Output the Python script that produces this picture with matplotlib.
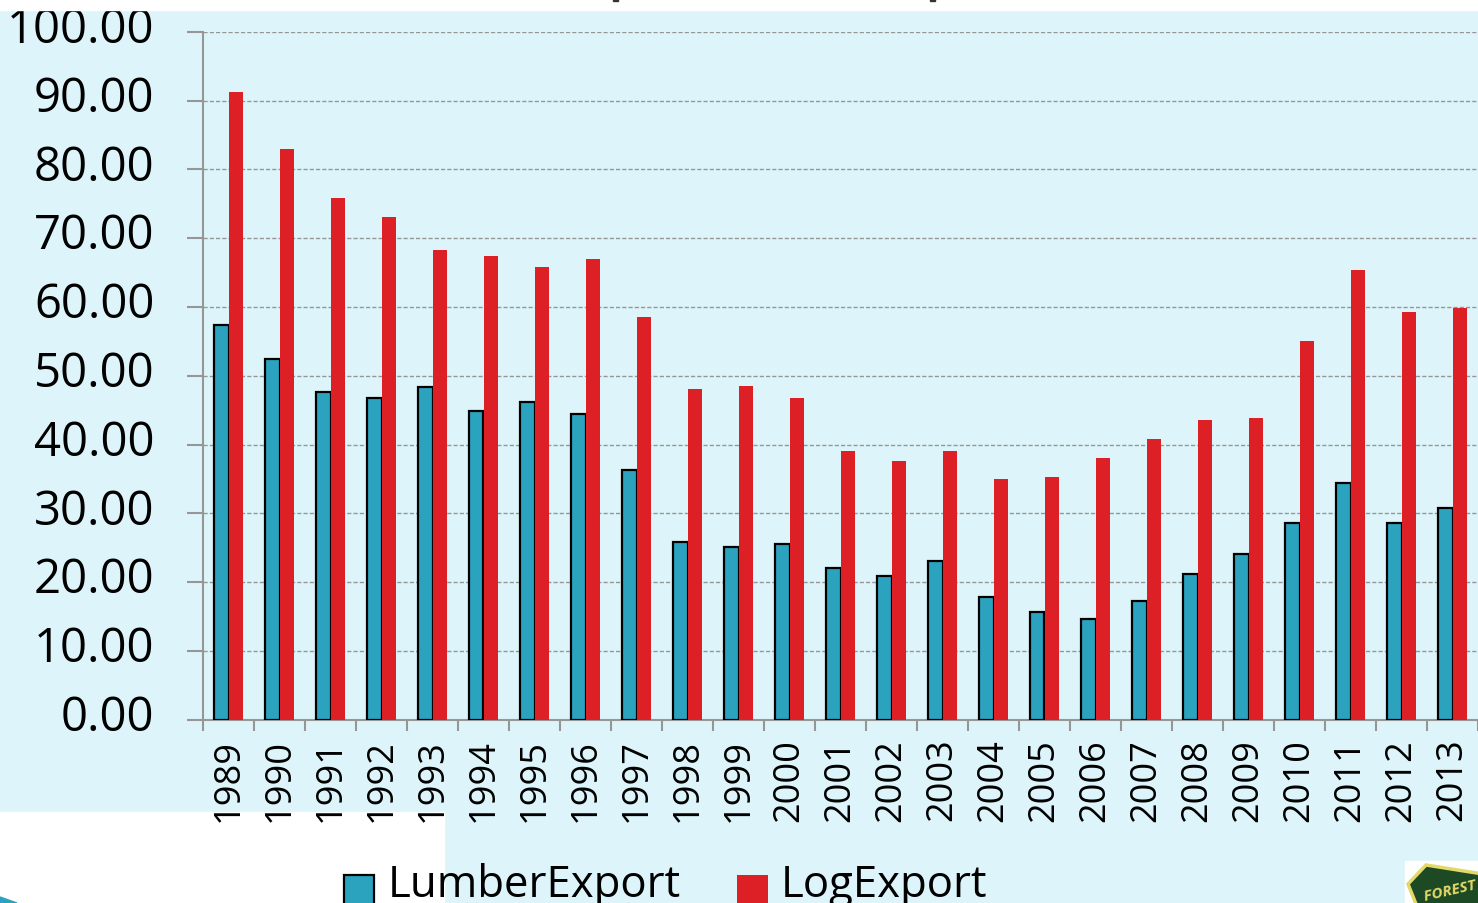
import matplotlib
matplotlib.use("Agg")
import matplotlib.pyplot as plt
import numpy as np
from matplotlib.patches import Polygon, Rectangle
from matplotlib.transforms import ScaledTranslation

W, H = 1478, 904

years = list(range(1989, 2014))
lumber = [57.3, 52.5, 47.7, 46.7, 48.3, 44.8, 46.2, 44.5, 36.3, 25.9, 25.1, 25.6, 22.1,
          20.9, 23.0, 17.9, 15.7, 14.7, 17.2, 21.2, 24.1, 28.6, 34.4, 28.6, 30.8]
logs = [91.3, 83.0, 75.9, 73.0, 68.2, 67.4, 65.8, 67.0, 58.6, 48.1, 48.5, 46.7, 39.1,
        37.6, 39.0, 35.0, 35.3, 38.1, 40.8, 43.6, 43.8, 55.1, 65.4, 59.2, 59.8]
y_ticks = [0, 10, 20, 30, 40, 50, 60, 70, 80, 90, 100]

BG = "#ddf5fa"
TEAL = "#2ba3bf"
RED = "#dd1f26"
GREY = "#969696"

plt.rcParams["font.family"] = ["Open Sans", "DejaVu Sans"]


# pixel box (from top left of the image) to figure rectangle
def box(x0, y0, x1, y1, **kw):
    return Rectangle((x0 / W, 1 - y1 / H), (x1 - x0) / W, (y1 - y0) / H,
                     transform=fig.transFigure, **kw)


def poly(pts, **kw):
    return Polygon([(x / W, 1 - y / H) for x, y in pts], transform=fig.transFigure, **kw)


fig = plt.figure(figsize=(W / 100, H / 100), dpi=100, facecolor=BG)
ax = fig.add_axes([203 / W, (H - 720.7) / H, (W - 203) / W, 688 / H])
ax.set_facecolor("none")

x = np.arange(len(years))
bw = 15 / 51.05
b1 = ax.bar(x - bw / 2, lumber, bw, color=TEAL, edgecolor="black", linewidth=1.6,
            label="LumberExport", zorder=3)
b2 = ax.bar(x + bw / 2, logs, bw, color=RED, linewidth=0, label="LogExport", zorder=3)

ax.set_xlim(-0.5, -0.5 + 1275 / 51.05)
ax.set_ylim(0, 100)
ax.set_yticks(y_ticks, [f"{v:.2f}" for v in y_ticks])
ax.set_xticks(x, years, rotation=90)
ax.set_xticks(np.arange(len(years) + 1) - 0.5, minor=True)
ax.tick_params(axis="y", length=11.5, width=1.5, color=GREY, labelsize=34, pad=23.5)
ax.tick_params(axis="x", which="major", length=0, labelsize=26, pad=13)
ax.tick_params(axis="x", which="minor", length=8, width=1.5, color=GREY)
ax.grid(axis="y", color=GREY, linestyle=(0, (3, 1.5)), linewidth=1, zorder=1)
ax.set_axisbelow(True)
for s in ["top", "right"]:
    ax.spines[s].set_visible(False)
for s in ["left", "bottom"]:
    ax.spines[s].set_color(GREY)
    ax.spines[s].set_linewidth(1.5)

# y labels sit a little above their ticks
up = ScaledTranslation(0, 8 / 100, fig.dpi_scale_trans)
for lab in ax.get_yticklabels():
    lab.set_transform(lab.get_transform() + up)

# white areas of the slide, text in the top strip gets cut off
fig.add_artist(box(0, 813, 444, 904, color="white", zorder=-5))
fig.add_artist(box(0, 0, W, 11, color="white", zorder=5))
# bits of the cut off title
fig.add_artist(box(613, 0, 618, 2, color="#333333", zorder=6))
fig.add_artist(box(930, 0, 935, 2, color="#333333", zorder=6))

leg = fig.legend(handles=[b1, b2], loc="upper left", bbox_to_anchor=(344 / W, 1 - 863 / H),
                 ncol=2, frameon=False, fontsize=31.5, handlelength=0.69, handleheight=0.69,
                 handletextpad=0.3, columnspacing=1.3, borderpad=0, borderaxespad=0)
for h in leg.legend_handles:
    h.set_y(h.get_y() - 7)

# corner of the slide decoration and the logo
fig.add_artist(poly([(0, 898), (17, 904), (0, 904)], color=TEAL, zorder=2))
fig.add_artist(box(1405, 862, W, 904, color="white", zorder=2))
fig.add_artist(poly([(1426, 866), (W + 5, 875), (W + 5, 910), (1418, 910), (1408, 885)],
                    facecolor="#1d4a24", edgecolor="#e3d96a", linewidth=2.5, zorder=3))
fig.text(1423 / W, 1 - 901 / H, "FOREST S", color="#e3d96a", fontsize=11, rotation=13,
         style="italic", fontweight="bold", zorder=4)

fig.savefig("out.png", dpi=100)
